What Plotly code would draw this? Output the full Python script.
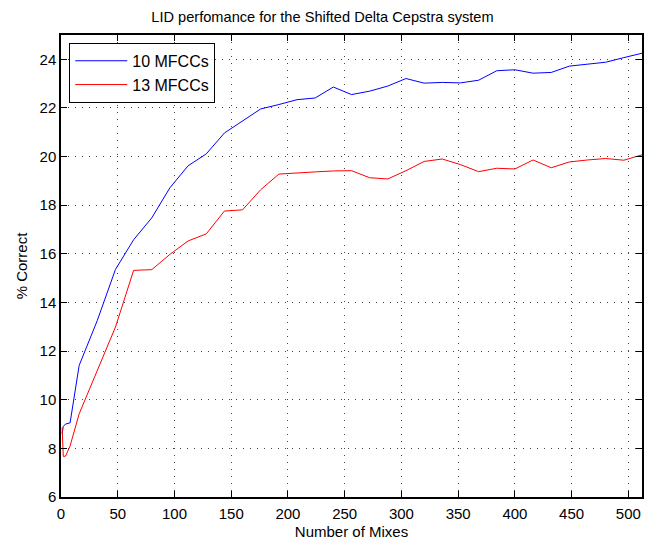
import plotly.graph_objects as go

# Number of mixture components evaluated
mixes = [1, 2, 4, 8, 16, 32, 48, 64, 80, 96, 112, 128, 144, 160, 176, 192, 208,
         224, 240, 256, 272, 288, 304, 320, 336, 352, 368, 384, 400, 416, 432,
         448, 464, 480, 496, 512]

# Percentage correct, 10 MFCC features
mfcc10 = [8.6, 8.9, 9.0, 9.05, 11.41, 13.26, 15.36, 16.58, 17.48, 18.72, 19.62,
          20.11, 20.97, 21.45, 21.96, 22.14, 22.34, 22.41, 22.86, 22.55, 22.69,
          22.90, 23.21, 23.02, 23.05, 23.03, 23.14, 23.53, 23.57, 23.43, 23.46,
          23.72, 23.79, 23.88, 24.07, 24.25]

# Percentage correct, 13 MFCC features
mfcc13 = [8.85, 7.67, 7.68, 8.1, 9.42, 11.2, 12.99, 15.32, 15.35, 15.98, 16.53,
          16.82, 17.76, 17.81, 18.64, 19.28, 19.31, 19.37, 19.41, 19.42, 19.13,
          19.08, 19.42, 19.8, 19.9, 19.67, 19.38, 19.52, 19.49, 19.86, 19.54,
          19.78, 19.86, 19.92, 19.85, 20.07]

x_ticks = list(range(0, 501, 50))
y_ticks = list(range(6, 25, 2))

FONT = "Liberation Sans, Arial, Helvetica, sans-serif"

fig = go.Figure()
fig.add_trace(go.Scatter(x=mixes, y=mfcc10, mode="lines", name="10 MFCCs",
                         line=dict(color="#0000ff", width=1)))
fig.add_trace(go.Scatter(x=mixes, y=mfcc13, mode="lines", name="13 MFCCs",
                         line=dict(color="#ff0000", width=1)))

axis_common = dict(
    showline=True, linecolor="black", linewidth=1.5, mirror="allticks",
    ticks="inside", ticklen=6, tickcolor="black", tickwidth=1,
    showgrid=True, gridcolor="#444444", gridwidth=1, griddash="1px,6px",
    zeroline=False, tickfont=dict(family=FONT, size=15, color="black"),
)

fig.update_xaxes(range=[0, 512], tickvals=x_ticks, ticklabelstandoff=2,
                 title=dict(text="Number of Mixes", standoff=6,
                            font=dict(family=FONT, size=15, color="black")),
                 **axis_common)
fig.update_yaxes(range=[6, 25], tickvals=y_ticks,
                 title=dict(text="% Correct", standoff=8,
                            font=dict(family=FONT, size=15, color="black")),
                 **axis_common)

fig.update_layout(
    width=645, height=541,
    margin=dict(l=61, r=1, t=35, b=44),
    paper_bgcolor="white", plot_bgcolor="white",
    title=dict(text="LID perfomance for the Shifted Delta Cepstra system",
               x=0.5, xanchor="center", y=1 - 17 / 541, yanchor="middle",
               font=dict(family=FONT, size=14.6, color="black")),
    legend=dict(x=0.0142, y=0.983, xanchor="left", yanchor="top",
                bgcolor="white", bordercolor="black", borderwidth=1,
                itemwidth=52, font=dict(family=FONT, size=16, color="black"),
                tracegroupgap=0),
    showlegend=True,
)

fig.write_html("out.html")
